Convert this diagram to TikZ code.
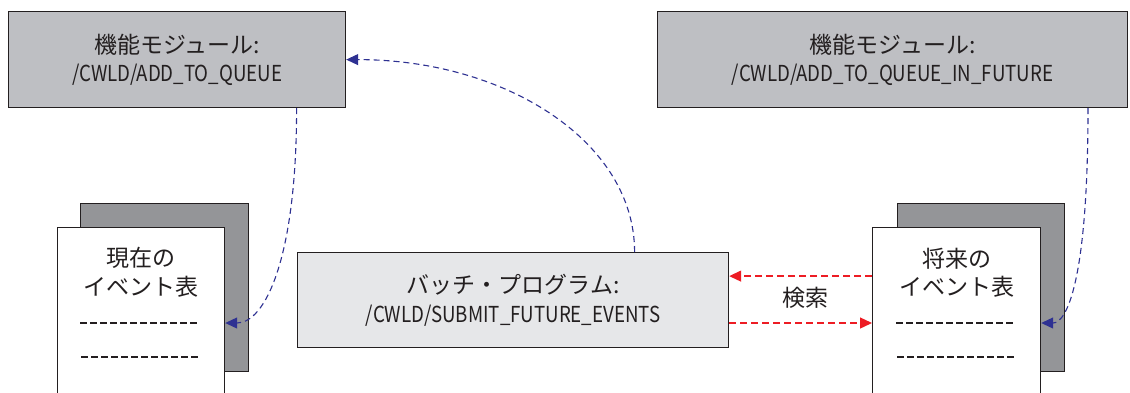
\documentclass[tikz,border=0pt]{standalone}
\usepackage{fontspec}
\setmainfont{Noto Sans CJK JP}
\newfontfamily\latinc[FakeStretch=0.85]{Noto Sans CJK JP}
\usetikzlibrary{arrows.meta,calc}
\definecolor{modfill}{HTML}{BEBFC3}
\definecolor{backfill}{HTML}{949598}
\definecolor{batchfill}{HTML}{E6E7E9}
\definecolor{edgecol}{HTML}{231F20}
\definecolor{flowblue}{HTML}{2E3192}
\definecolor{searchred}{HTML}{ED1C24}
\newcommand\jpsize{\fontsize{23pt}{28.5pt}\selectfont}
\newcommand\lat[1]{{\latinc\fontsize{22pt}{28.5pt}\selectfont #1}}
\begin{document}
\begin{tikzpicture}[x=1pt,y=-1pt,
  module/.style={draw=edgecol, line width=1.2pt, fill=modfill, align=center, inner sep=0pt, font=\jpsize, text=edgecol, anchor=north west},
  batchbox/.style={module, fill=batchfill},
  sheetback/.style={draw=edgecol, line width=1.2pt, fill=backfill, inner sep=0pt, anchor=north west},
  sheetfront/.style={draw=edgecol, line width=1.2pt, fill=white, inner sep=0pt, anchor=north west},
  sheettext/.style={align=center, inner sep=0pt, font=\jpsize, text=edgecol},
  rowline/.style={draw=edgecol, line width=1.1pt, dash pattern=on 7pt off 3pt},
  flow/.style={draw=flowblue, line width=1.1pt, dash pattern=on 6pt off 4pt, -{Triangle[length=12pt,width=11pt]}},
  search/.style={draw=searchred, line width=1.3pt, dash pattern=on 7pt off 4pt, -{Triangle[length=12pt,width=11pt]}},
  plainlabel/.style={inner sep=0pt, font=\jpsize, text=edgecol}
]
\useasboundingbox (0,0) rectangle (1130,392);

% modules
\node[module, minimum width=337pt, minimum height=96pt] (modA) at (8,11)
  {機能モジュール:\\\lat{/CWLD/ADD\_TO\_QUEUE}};
\node[module, minimum width=470pt, minimum height=96pt] (modB) at (657,11)
  {機能モジュール:\\\lat{/CWLD/ADD\_TO\_QUEUE\_IN\_FUTURE}};

% batch program
\node[batchbox, minimum width=431pt, minimum height=95pt] (batch) at (297,252)
  {バッチ・プログラム:\\\lat{/CWLD/SUBMIT\_FUTURE\_EVENTS}};

% current event table
\node[sheetback, minimum width=168pt, minimum height=168pt] (curB) at (80,203) {};
\node[sheetfront, minimum width=167pt, minimum height=180pt] (curF) at (57,227) {};
\node[sheettext] (curTxt) at ([yshift=-45.5pt]curF.north) {現在の\\イベント表};
\coordinate (curL1) at (80,323);
\coordinate (curL2) at (81,357);
\draw[rowline] (curL1) -- ++(120,0);
\draw[rowline] (curL2) -- ++(120,0);

% future event table
\node[sheetback, minimum width=167pt, minimum height=168pt] (futB) at (897,203) {};
\node[sheetfront, minimum width=168pt, minimum height=180pt] (futF) at (872,227) {};
\node[sheettext] (futTxt) at ([yshift=-45.5pt]futF.north) {将来の\\イベント表};
\coordinate (futL1) at (896,323);
\coordinate (futL2) at (897,357);
\draw[rowline] (futL1) -- ++(120,0);
\draw[rowline] (futL2) -- ++(120,0);

% blue flows
\draw[flow] ([xshift=119.5pt]modA.south) .. controls +(0,150) and +(40,0) .. (curF.east |- curL1);
\draw[flow] ([xshift=121.5pt]batch.north) .. controls +(0,-110) and +(160,0) .. (modA.east);
\draw[flow] (modB.south -| 1088,0) .. controls +(0,175) and +(25,0) .. (futF.east |- futL1);

% search
\draw[search] ([yshift=24pt]futF.west |- batch.east) -- ([yshift=24pt]batch.east);
\draw[search] (batch.east |- futL1) -- (futF.west |- futL1);
\node[plainlabel] (searchLbl) at (805,298) {検索};
\end{tikzpicture}
\end{document}
